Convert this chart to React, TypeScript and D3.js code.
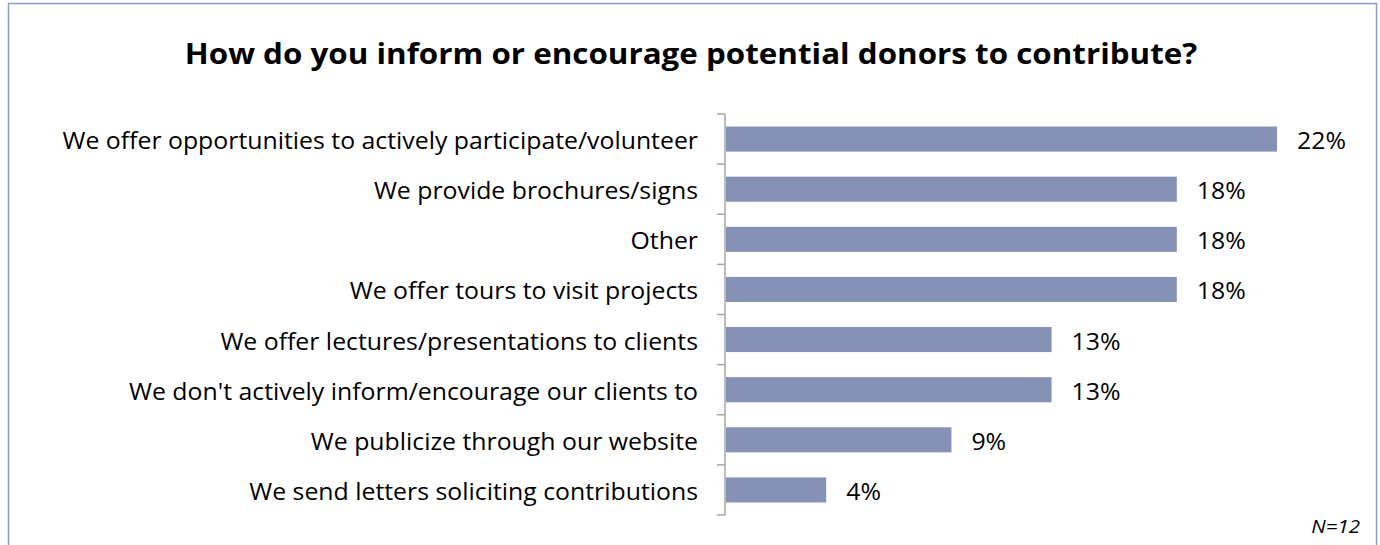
import React from "react";
import * as d3 from "d3";

const categories = [
  "We offer opportunities to actively participate/volunteer",
  "We provide brochures/signs",
  "Other",
  "We offer tours to visit projects",
  "We offer lectures/presentations to clients",
  "We don't actively inform/encourage our clients to",
  "We publicize through our website",
  "We send letters soliciting contributions",
];
const values = [22, 18, 18, 18, 13, 13, 9, 4];
const valueLabels = ["22%", "18%", "18%", "18%", "13%", "13%", "9%", "4%"];
const title = "How do you inform or encourage potential donors to contribute?";
const note = "N=12";

export default function App() {
  const W = 1380, H = 545;
  const x0 = 725;
  const x = d3.scaleLinear().domain([0, 22]).range([x0, x0 + 551]);
  const y = d3.scaleBand().domain(categories).range([114, 515]).paddingInner(0.5).paddingOuter(0.25);
  const font = "'Open Sans', sans-serif";
  const sx = 1.08;
  const ticks = d3.range(categories.length + 1).map((i) => 114 + (i * (515 - 114)) / categories.length);
  return (
    <svg width={W} height={H} style={{ position: "absolute", left: 0, top: 0 }}>
      <rect x={8.5} y={3.5} width={1368} height={600} fill="white" stroke="#8C9CC4" strokeWidth={1.5} />
      <text transform={`translate(691,64) scale(1.12,1)`} textAnchor="middle" fontFamily={font} fontWeight={700} fontSize={28} fill="#000">
        {title}
      </text>
      <line x1={x0} x2={x0} y1={114} y2={515} stroke="#A6A6A6" strokeWidth={1.5} />
      {ticks.map((t, i) => (
        <line key={i} x1={x0 - 8} x2={x0} y1={t} y2={t} stroke="#A6A6A6" strokeWidth={1.5} />
      ))}
      {categories.map((c, i) => {
        const yy = y(c)!;
        const bw = y.bandwidth();
        return (
          <g key={c}>
            <rect x={x(0) + 1} y={yy} width={x(values[i]) - x(0)} height={bw} fill="#8592B5" />
            <text transform={`translate(698,${yy + bw / 2 + 10}) scale(${sx},1)`} textAnchor="end" fontFamily={font} fontSize={23} fill="#000">
              {c}
            </text>
            <text transform={`translate(${x(values[i]) + 21},${yy + bw / 2 + 10}) scale(${sx},1)`} fontFamily={font} fontSize={23} fill="#000">
              {valueLabels[i]}
            </text>
          </g>
        );
      })}
      <text transform={`translate(1360,533) scale(${sx},1)`} textAnchor="end" fontFamily={font} fontStyle="italic" fontSize={19} fill="#000">
        {note}
      </text>
    </svg>
  );
}
